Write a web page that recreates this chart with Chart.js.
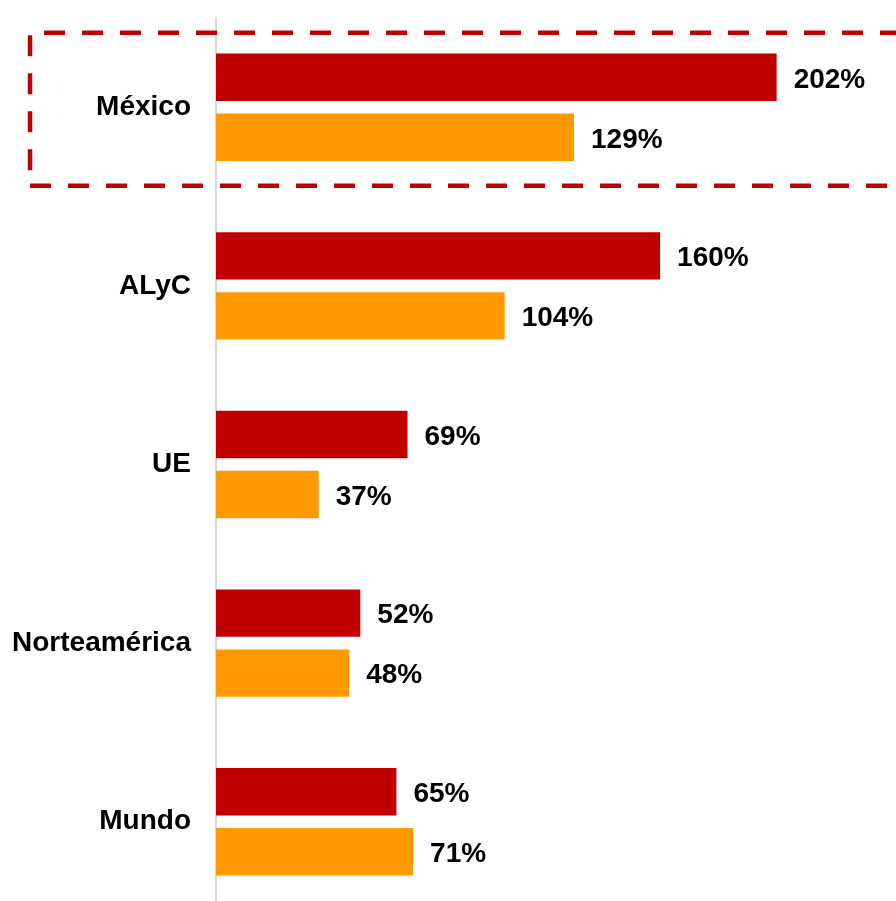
<!DOCTYPE html>
<html>
<head>
<meta charset="utf-8">
<script src="https://cdn.jsdelivr.net/npm/chart.js@4.4.1/dist/chart.umd.min.js"></script>
<style>
  html, body { margin: 0; padding: 0; background: #fff; overflow: hidden; }
  canvas { display: block; }
</style>
</head>
<body>
<canvas id="chart" width="896" height="911"></canvas>
<script>
const categories = ["México", "ALyC", "UE", "Norteamérica", "Mundo"];
const seriesRed = [202, 160, 69, 52, 65];
const seriesOrange = [129, 104, 37, 48, 71];

const RED = "#C00000";
const ORANGE = "#FF9900";
const FONT = "bold 28px 'Liberation Sans', Arial, sans-serif";

// value labels drawn at the end of each bar
const valueLabels = {
  id: "valueLabels",
  afterDatasetsDraw(chart) {
    const ctx = chart.ctx;
    ctx.save();
    ctx.font = FONT;
    ctx.fillStyle = "#000";
    ctx.textAlign = "left";
    ctx.textBaseline = "middle";
    chart.data.datasets.forEach((ds, i) => {
      chart.getDatasetMeta(i).data.forEach((bar, j) => {
        ctx.fillText(ds.data[j] + "%", bar.x + 17, bar.y + 2.5);
      });
    });
    ctx.restore();
  }
};

// dashed highlight box around the first category
const highlightBox = {
  id: "highlightBox",
  afterDraw(chart) {
    const y = chart.scales.y;
    const center = y.getPixelForValue(0);
    const top = center - 74.5;
    const bottom = center + 78.5;
    const left = 30;
    const right = chart.width + 10;
    const ctx = chart.ctx;
    ctx.save();
    ctx.strokeStyle = RED;
    ctx.lineWidth = 4.5;
    ctx.setLineDash([21, 17]);
    ctx.beginPath();
    ctx.moveTo(44, top);
    ctx.lineTo(right, top);
    ctx.stroke();
    ctx.beginPath();
    ctx.moveTo(left, top + 2.5);
    ctx.lineTo(left, bottom);
    ctx.stroke();
    ctx.beginPath();
    ctx.moveTo(left, bottom);
    ctx.lineTo(right, bottom);
    ctx.stroke();
    ctx.restore();
  }
};

new Chart(document.getElementById("chart"), {
  type: "bar",
  data: {
    labels: categories,
    datasets: [
      { label: "Serie 1", data: seriesRed, backgroundColor: RED },
      { label: "Serie 2", data: seriesOrange, backgroundColor: ORANGE }
    ]
  },
  options: {
    indexAxis: "y",
    responsive: false,
    animation: false,
    categoryPercentage: 0.672,
    barPercentage: 0.79,
    layout: { padding: { top: 18, bottom: 0, left: 0, right: 0 } },
    plugins: {
      legend: { display: false },
      tooltip: { enabled: false }
    },
    scales: {
      x: {
        display: false,
        min: 0,
        max: 245
      },
      y: {
        afterFit(scale) {
          scale.width = 216;
          scale.paddingTop = 0;
          scale.paddingBottom = 0;
        },
        grid: { display: false, drawTicks: false },
        border: { display: true, color: "#d9d9d9", width: 2 },
        ticks: {
          color: "#000",
          padding: 25,
          font: { family: "'Liberation Sans', Arial, sans-serif", size: 28, weight: "bold" }
        }
      }
    }
  },
  plugins: [valueLabels, highlightBox]
});
</script>
</body>
</html>
